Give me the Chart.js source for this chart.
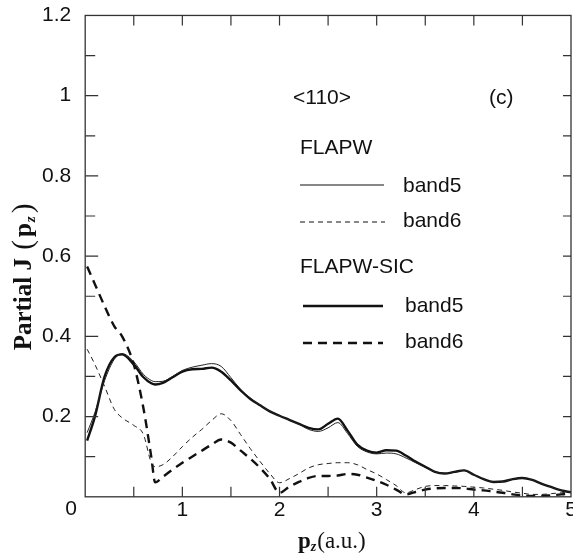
<!DOCTYPE html>
<html>
<head>
<meta charset="utf-8">
<script src="https://cdn.jsdelivr.net/npm/chart.js@4.4.1/dist/chart.umd.min.js"></script>
<style>
    html, body { margin: 0; padding: 0; background: #fff; overflow: hidden; }
    .chart-box { width: 590px; height: 554px; }
</style>
</head>
<body>
<div class="chart-box"><canvas id="profile"></canvas></div>
<script>
// Data

const pz = [0.02, 0.1, 0.2, 0.3, 0.38, 0.5, 0.6, 0.68, 0.72, 0.8, 0.9, 1.0, 1.1, 1.2, 1.3, 1.4, 1.5, 1.6, 1.7, 1.8, 1.9, 2.0,
    2.1, 2.2, 2.3, 2.4, 2.5, 2.6, 2.7, 2.8, 2.9, 3.0, 3.1, 3.2, 3.3, 3.4, 3.5, 3.6, 3.7, 3.8, 3.9, 4.0,
    4.1, 4.2, 4.3, 4.4, 4.5, 4.6, 4.7, 4.8, 4.9, 5.0];

const flapwBand5 = [0.16, 0.21, 0.29, 0.343, 0.357, 0.337, 0.305, 0.29, 0.287, 0.288, 0.30, 0.315, 0.323, 0.328, 0.332, 0.325, 0.297, 0.268, 0.246, 0.228, 0.213, 0.202,
    0.192, 0.181, 0.168, 0.163, 0.172, 0.185, 0.158, 0.126, 0.112, 0.107, 0.109, 0.107, 0.097, 0.085, 0.073, 0.062, 0.058, 0.062, 0.066, 0.055,
    0.044, 0.037, 0.038, 0.044, 0.047, 0.042, 0.032, 0.024, 0.016, 0.011];

const flapwBand6 = [0.368, 0.33, 0.275, 0.218, 0.197, 0.178, 0.155, 0.085, 0.075, 0.08, 0.10, 0.125, 0.148, 0.168, 0.19, 0.207, 0.19, 0.155, 0.12, 0.088, 0.058, 0.035,
    0.045, 0.058, 0.072, 0.08, 0.083, 0.085, 0.085, 0.08, 0.068, 0.057, 0.043, 0.028, 0.01, 0.018, 0.026, 0.028, 0.028, 0.027, 0.026, 0.024,
    0.022, 0.019, 0.016, 0.012, 0.009, 0.006, 0.006, 0.008, 0.01, 0.012];

const sicBand5 = [0.14, 0.20, 0.30, 0.348, 0.355, 0.33, 0.298, 0.283, 0.28, 0.284, 0.298, 0.312, 0.318, 0.319, 0.322, 0.312, 0.29, 0.265, 0.244, 0.228, 0.213, 0.202,
    0.192, 0.182, 0.172, 0.168, 0.182, 0.195, 0.165, 0.13, 0.115, 0.11, 0.116, 0.115, 0.103, 0.088, 0.075, 0.062, 0.058, 0.062, 0.066, 0.055,
    0.044, 0.037, 0.038, 0.044, 0.047, 0.042, 0.032, 0.024, 0.016, 0.011];

const sicBand6 = [0.574, 0.53, 0.475, 0.425, 0.40, 0.33, 0.22, 0.10, 0.036, 0.05, 0.068, 0.085, 0.10, 0.115, 0.13, 0.143, 0.135, 0.115, 0.095, 0.072, 0.045, 0.01,
    0.025, 0.037, 0.047, 0.052, 0.052, 0.053, 0.057, 0.055, 0.048, 0.04, 0.03, 0.018, 0.006, 0.012, 0.018, 0.021, 0.022, 0.022, 0.021, 0.018,
    0.016, 0.013, 0.01, 0.006, 0.003, 0.002, 0.002, 0.004, 0.006, 0.009];

const xTicks = [0, 1, 2, 3, 4, 5];
const yTicks = [0, 0.2, 0.4, 0.6, 0.8, 1, 1.2];

const toPoints = (vals) => vals.map((v, i) => ({ x: pz[i], y: v }));

const sansFont = "'Liberation Sans', Arial, sans-serif";
const serifFont = "'Liberation Serif', 'Times New Roman', serif";

// Frame, inward ticks, legend and axis titles

const framePlugin = {
    id: "frame",
    afterDraw(chart) {
        const c = chart.ctx;
        const a = chart.chartArea;
        const xs = chart.scales.x;
        const ys = chart.scales.y;

        c.save();
        c.strokeStyle = "#333";
        c.lineWidth = 1.3;
        c.strokeRect(a.left, a.top, a.right - a.left, a.bottom - a.top);

        c.lineWidth = 1.2;
        c.beginPath();
        for (let v = 0.5; v < 5; v += 0.5) {
            const px = xs.getPixelForValue(v);
            c.moveTo(px, a.bottom); c.lineTo(px, a.bottom - 10);
            c.moveTo(px, a.top); c.lineTo(px, a.top + 10);
        }
        for (let k = 1; k < 12; k++) {
            const v = k / 10;
            const py = ys.getPixelForValue(v);
            const len = k % 2 === 0 ? 13 : 10;
            c.moveTo(a.left, py); c.lineTo(a.left + len, py);
            c.moveTo(a.right, py); c.lineTo(a.right - 8, py);
        }
        c.stroke();

        // corner "0"
        c.fillStyle = "#111";
        c.font = "21px " + sansFont;
        c.textAlign = "center";
        c.textBaseline = "middle";
        c.fillText("0", a.left - 14, a.bottom + 12);

        // annotations
        c.textAlign = "left";
        c.fillText("(c)", 489, 98);
        c.fillText("<110>", 293, 98);
        c.fillText("FLAPW", 300, 148);
        c.fillText("band5", 403, 186);
        c.fillText("band6", 403, 221);
        c.fillText("FLAPW-SIC", 300, 267);
        c.fillText("band5", 405, 306);
        c.fillText("band6", 405, 342);

        c.strokeStyle = "#111";
        c.lineWidth = 1;
        c.setLineDash([]);
        c.beginPath(); c.moveTo(300, 185); c.lineTo(384, 185); c.stroke();
        c.setLineDash([5, 4]);
        c.beginPath(); c.moveTo(300, 222); c.lineTo(385, 222); c.stroke();
        c.lineWidth = 2.4;
        c.setLineDash([]);
        c.beginPath(); c.moveTo(303, 306); c.lineTo(383, 306); c.stroke();
        c.setLineDash([9, 6]);
        c.beginPath(); c.moveTo(303, 343); c.lineTo(383, 343); c.stroke();
        c.setLineDash([]);

        // x title: p_z(a.u.)
        c.textBaseline = "alphabetic";
        let x = 298;
        const base = 548;
        c.font = "bold 23px " + serifFont;
        c.fillText("p", x, base);
        x += c.measureText("p").width;
        c.font = "italic bold 14px " + serifFont;
        c.fillText("z", x, base + 3);
        x += c.measureText("z").width + 1;
        c.font = "23px " + serifFont;
        c.fillText("(a.u.)", x, base);

        // y title: Partial J(p_z), centred on the axis middle
        const parts = [
            ["Partial J ", "bold 25px ", 0, 2],
            ["(", "29px ", 1, 3],
            ["p", "bold 25px ", 0, 1],
            ["z", "italic bold 15px ", 4, 3],
            [")", "29px ", 1, 0],
        ];
        let total = 0;
        parts.forEach(p => { c.font = p[1] + serifFont; total += c.measureText(p[0]).width + p[3]; });
        c.translate(31, 277 + total / 2);
        c.rotate(-Math.PI / 2);
        let t = 0;
        parts.forEach(p => {
            c.font = p[1] + serifFont;
            c.fillText(p[0], t, p[2]);
            t += c.measureText(p[0]).width + p[3];
        });
        c.restore();
    }
};

const ctx = document.getElementById("profile");

const chart = new Chart(ctx, {
    type: "line",
    data: {
        datasets: [
            {
                label: "FLAPW band5",
                data: toPoints(flapwBand5),
                borderColor: "#222",
                borderWidth: 1,
            },
            {
                label: "FLAPW band6",
                data: toPoints(flapwBand6),
                borderColor: "#222",
                borderWidth: 1,
                borderDash: [5, 4],
            },
            {
                label: "FLAPW-SIC band5",
                data: toPoints(sicBand5),
                borderColor: "#111",
                borderWidth: 2.4,
            },
            {
                label: "FLAPW-SIC band6",
                data: toPoints(sicBand6),
                borderColor: "#111",
                borderWidth: 2.4,
                borderDash: [9, 6],
            },
        ]
    },
    options: {
        responsive: true,
        maintainAspectRatio: false,
        animation: false,
        events: [],
        layout: {
            padding: { left: 36, right: 19, top: 0, bottom: 38 }
        },
        elements: {
            point: { radius: 0 },
            line: { cubicInterpolationMode: "monotone", fill: false }
        },
        scales: {
            x: {
                type: "linear",
                min: 0,
                max: 5,
                afterBuildTicks: (s) => { s.ticks = xTicks.map(v => ({ value: v })); },
                grid: { display: false },
                border: { display: false },
                ticks: {
                    color: "#111",
                    padding: -7,
                    maxRotation: 0,
                    font: { family: sansFont, size: 21 },
                    callback: (v) => v === 0 ? "" : String(v),
                },
            },
            y: {
                min: 0,
                max: 1.2,
                afterBuildTicks: (s) => { s.ticks = yTicks.map(v => ({ value: v })); },
                grid: { display: false },
                border: { display: false },
                ticks: {
                    color: "#111",
                    padding: 6,
                    font: { family: sansFont, size: 21, lineHeight: 0.9 },
                    callback: (v) => v === 0 ? "" : String(Math.round(v * 10) / 10),
                },
            },
        },
        plugins: {
            legend: { display: false },
            tooltip: { enabled: false },
        },
    },
    plugins: [framePlugin],
});
</script>
</body>
</html>
